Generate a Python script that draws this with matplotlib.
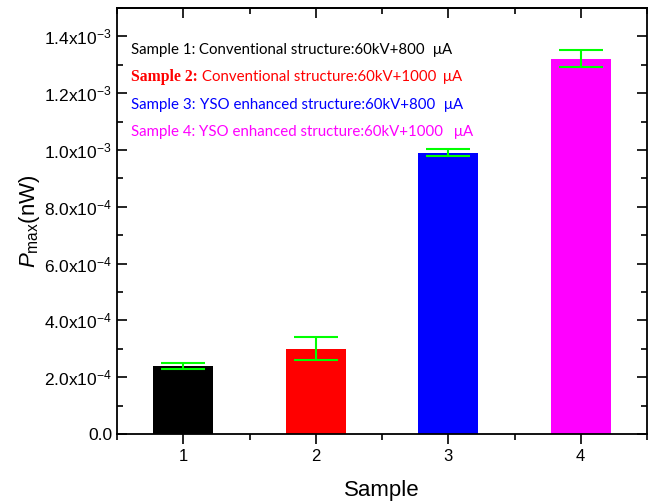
import matplotlib
matplotlib.use("Agg")
import matplotlib.pyplot as plt
from matplotlib.ticker import FixedLocator, FixedFormatter, MultipleLocator

plt.rcParams['font.family'] = ['Liberation Sans', 'DejaVu Sans']
plt.rcParams['mathtext.fontset'] = 'custom'
plt.rcParams['mathtext.rm'] = 'Liberation Sans'
plt.rcParams['mathtext.it'] = 'Liberation Sans:italic'

samples = [1, 2, 3, 4]
values = [2.39e-4, 3.01e-4, 9.90e-4, 13.22e-4]
errors = [0.11e-4, 0.395e-4, 0.12e-4, 0.30e-4]
colors = ['#000000', '#FF0000', '#0000FF', '#FF00FF']
ytick_vals = [0, 2e-4, 4e-4, 6e-4, 8e-4, 10e-4, 12e-4, 14e-4]
ytick_labels = ['0.0', r'2.0x10$^{-4}$', r'4.0x10$^{-4}$', r'6.0x10$^{-4}$',
                r'8.0x10$^{-4}$', r'1.0x10$^{-3}$', r'1.2x10$^{-3}$', r'1.4x10$^{-3}$']
legend_heads = ['Sample 1:', 'Sample 2:', 'Sample 3:', 'Sample 4:']
legend_bodies = [' Conventional structure:60kV+800', ' Conventional structure:60kV+1000',
                 ' YSO enhanced structure:60kV+800', ' YSO enhanced structure:60kV+1000']
unit = 'μA'

fig = plt.figure(figsize=(6.51, 5.03), dpi=100)
ax = fig.add_axes([117/651, 1-434/503, 530/651, 426/503])

ax.bar(samples, values, width=0.45, color=colors, zorder=2)
ax.errorbar(samples, values, yerr=errors, fmt='none', ecolor='#00FF00',
            elinewidth=1.5, capsize=15.5, capthick=1.5, zorder=3)

ax.set_xlim(0.5, 4.5)
ax.set_ylim(0, 1.5e-3)
ax.xaxis.set_major_locator(FixedLocator(samples))
ax.xaxis.set_minor_locator(MultipleLocator(0.5))
ax.yaxis.set_major_locator(FixedLocator(ytick_vals))
ax.yaxis.set_major_formatter(FixedFormatter(ytick_labels))
ax.yaxis.set_minor_locator(MultipleLocator(1e-4))

for s in ax.spines.values():
    s.set_linewidth(1.3)
ax.tick_params(axis='y', which='both', direction='in', right=True, labelsize=12.5, width=1.2)
ax.tick_params(axis='y', which='major', length=7)
ax.tick_params(axis='y', which='minor', length=4)
ax.tick_params(axis='x', which='both', direction='out', labelsize=12, width=1.2)
ax.tick_params(axis='x', which='major', length=7)
ax.tick_params(axis='x', which='minor', length=4)
ax.xaxis.set_tick_params(which='both', top=False)
# top ticks inward
ax2 = ax.secondary_xaxis('top')
ax2.set_xticks(samples)
ax2.xaxis.set_minor_locator(MultipleLocator(0.5))
ax2.tick_params(axis='x', which='both', direction='in', labeltop=False, width=1.2)
ax2.tick_params(axis='x', which='major', length=7)
ax2.tick_params(axis='x', which='minor', length=4)
ax2.spines['top'].set_linewidth(1.3)

ax.set_xlabel('Sample', fontsize=16, labelpad=12)
ax.set_ylabel(r'$\mathit{P}_{\mathrm{max}}$(nW)', fontsize=16, labelpad=2)

ys = [50, 77, 105, 132]
unit_x = [433, 443, 444, 454]
for i in range(4):
    yf = 1 - ys[i]/503
    if i == 1:
        t = fig.text(131/651, yf, legend_heads[i], color=colors[i], fontsize=11.3,
                     family='Liberation Serif', weight='bold', va='center')
    else:
        t = fig.text(131/651, yf, legend_heads[i], color=colors[i], fontsize=10.8,
                     family='Lato', va='center')
    fig.canvas.draw()
    bb = t.get_window_extent()
    fig.text(bb.x1/651, yf, legend_bodies[i], color=colors[i], fontsize=10.8,
             family='Lato', va='center')
    fig.text(unit_x[i]/651, yf, unit, color=colors[i], fontsize=10.8,
             family='Lato', va='center')

fig.savefig('out.png', dpi=100)
